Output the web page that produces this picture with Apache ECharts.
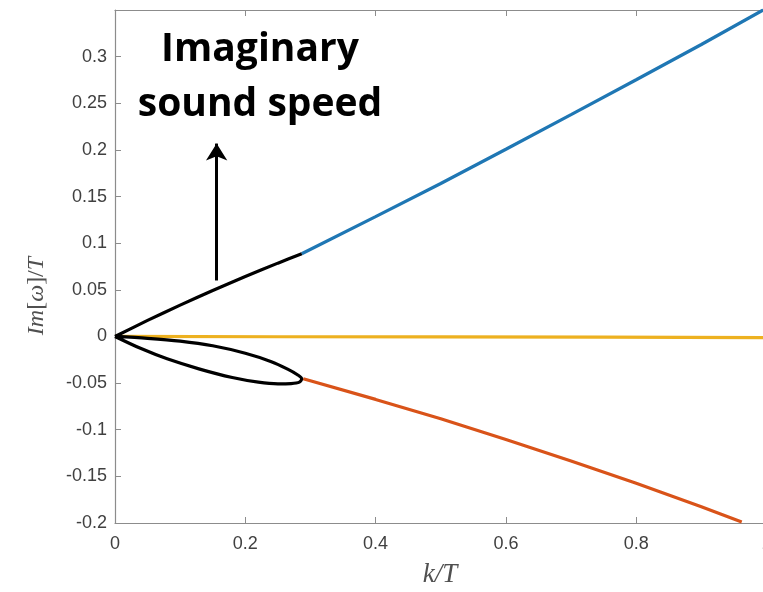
<!DOCTYPE html>
<html>
<head>
<meta charset="utf-8">
<script src="https://cdn.jsdelivr.net/npm/echarts@6/dist/echarts.min.js"></script>
<style>html,body{margin:0;padding:0;background:#fff}#c{width:763px;height:592px}</style>
</head>
<body>
<div id="c"></div>
<script>
// ---- data ----
const xTicks = [0, 0.2, 0.4, 0.6, 0.8, 1];
const yTicks = [-0.2, -0.15, -0.1, -0.05, 0, 0.05, 0.1, 0.15, 0.2, 0.25, 0.3];
const blackUpper = [[0,0],[0.05,0.0172],[0.1,0.0336],[0.15,0.0493],[0.2,0.0643],[0.25,0.0786],[0.2866,0.0887]];
const blueBranch = [[0.2866,0.0887],[0.4,0.1285],[0.5,0.1640],[0.6,0.2007],[0.7,0.2378],[0.8,0.2752],[0.9,0.3130],[0.995,0.350]];
const yellowBranch = [[0,0],[0.25,-0.0003],[0.5,-0.0005],[0.75,-0.0008],[1,-0.0012]];
const blackLoop = [[0,0],[0.05,-0.002],[0.1,-0.005],[0.15,-0.010],[0.2,-0.018],[0.24,-0.027],[0.265,-0.035],[0.28,-0.041],[0.2866,-0.0454],
                   [0.283,-0.049],[0.27,-0.0505],[0.25,-0.0508],[0.22,-0.049],[0.18,-0.044],[0.13,-0.035],[0.08,-0.024],[0.04,-0.013],[0,0]];
const orangeBranch = [[0.289,-0.0454],[0.4,-0.0675],[0.5,-0.0883],[0.6,-0.1104],[0.7,-0.1335],[0.8,-0.1575],[0.9,-0.1825],[0.962,-0.1988]];
const arrowFrom = [0.156, 0.060];
const arrowTo = [0.156, 0.2068];
const noteLines = ['Imaginary', 'sound speed'];
const xTitle = 'k/T';

const axisGray = '#8c8c8c';
const labelGray = '#404040';
const fmt = v => {
  if (Math.abs(v - 0.35) < 1e-9) return '';
  return (+v.toFixed(2)).toString();
};

const chart = echarts.init(document.getElementById('c'), null, {renderer:'canvas'});
const lw = 3.2;
chart.setOption({
  animation: false,
  backgroundColor: '#fff',
  grid: {left: 115, right: -3.5, top: 10, bottom: 69, containLabel: false, outerBoundsMode: 'none'},
  xAxis: [{
    type: 'value', min: 0, max: 1, interval: 0.2, position: 'bottom',
    axisLine: {show: true, onZero: false, lineStyle: {color: axisGray, width: 1.2}},
    axisTick: {show: true, inside: true, length: 6, lineStyle: {color: axisGray}},
    axisLabel: {color: labelGray, fontSize: 18, fontFamily: 'Liberation Sans', margin: 12, formatter: v => (+v.toFixed(1)).toString()},
    splitLine: {show: false}
  }, {
    type: 'value', min: 0, max: 1, interval: 0.2, position: 'top',
    axisLine: {show: true, onZero: false, lineStyle: {color: axisGray, width: 1.2}},
    axisTick: {show: true, inside: true, length: 6, lineStyle: {color: axisGray}},
    axisLabel: {show: false}, splitLine: {show: false}
  }],
  yAxis: [{
    type: 'value', min: -0.2, max: 0.35, interval: 0.05,
    axisLine: {show: true, onZero: false, lineStyle: {color: axisGray, width: 1.2}},
    axisTick: {show: true, inside: true, length: 6, lineStyle: {color: axisGray}},
    axisLabel: {color: labelGray, fontSize: 18, fontFamily: 'Liberation Sans', margin: 8, formatter: fmt},
    splitLine: {show: false}
  }],
  series: [
    {type: 'line', data: yellowBranch, showSymbol: false, lineStyle: {color: '#EDB120', width: lw}, z: 2},
    {type: 'line', data: blueBranch, showSymbol: false, lineStyle: {color: '#1f77b4', width: lw}, z: 3},
    {type: 'line', data: orangeBranch, showSymbol: false, lineStyle: {color: '#D95319', width: lw}, z: 3},
    {type: 'line', data: blackLoop, showSymbol: false, smooth: 0.3, lineStyle: {color: '#000', width: lw}, z: 4},
    {type: 'line', data: blackUpper, showSymbol: false, smooth: 0.3, lineStyle: {color: '#000', width: lw}, z: 4,
     markLine: {silent: true, symbol: ['none', 'arrow'], symbolSize: [16, 17],
       label: {show: false}, lineStyle: {color: '#000', width: 3, type: 'solid'},
       data: [[{coord: arrowFrom}, {coord: arrowTo}]]}}
  ],
  graphic: [
    {type: 'text', x: 260, y: 50, style: {text: noteLines[0], textAlign: 'center', textVerticalAlign: 'middle', font: 'bold 39px "Open Sans"', fill: '#000'}},
    {type: 'text', x: 260, y: 105, style: {text: noteLines[1], textAlign: 'center', textVerticalAlign: 'middle', font: 'bold 39px "Open Sans"', fill: '#000'}},
    {type: 'text', x: 37, y: 296, rotation: Math.PI/2,
     style: {text: '{i|Im}{n|[}{i|ω}{n|]/}{i|T}', textAlign: 'center', textVerticalAlign: 'middle',
       rich: {i: {fontFamily: 'Liberation Serif', fontStyle: 'italic', fontSize: 24, fill: '#505050'}, n: {fontFamily: 'Liberation Serif', fontSize: 24, fill: '#505050'}}}},
    {type: 'text', x: 440, y: 575,
     style: {text: xTitle, textAlign: 'center', textVerticalAlign: 'middle', font: 'italic 27px "Liberation Serif"', fill: '#505050'}}
  ]
});
</script>
</body>
</html>
